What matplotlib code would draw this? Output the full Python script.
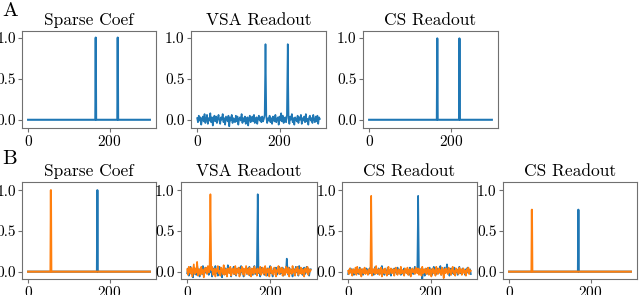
import numpy as np
import matplotlib
matplotlib.use("Agg")
import matplotlib.pyplot as plt

plt.rcParams['font.family'] = 'serif'
plt.rcParams['font.serif'] = ['cmr10']
plt.rcParams['mathtext.fontset'] = 'cm'
plt.rcParams['axes.formatter.use_mathtext'] = True
plt.rcParams['axes.edgecolor'] = '#707070'
plt.rcParams['xtick.color'] = '#707070'
plt.rcParams['ytick.color'] = '#707070'
plt.rcParams['xtick.labelcolor'] = 'black'
plt.rcParams['ytick.labelcolor'] = 'black'

N = 300
BLUE = '#1f77b4'
ORANGE = '#ff7f0e'

# row A: one signal, two active coefficients
a_spike_x = [166, 220]
a_coef = [1.0, 1.0]
a_vsa_peak = [0.92, 0.92]
a_cs_peak = [0.99, 0.99]

# row B: two signals (blue, orange), one active coefficient each
b_spike_x_blue = 170
b_spike_x_orange = 56
b_coef = 1.0
b_vsa_peak = [0.95, 0.95]    # blue, orange
b_cs_peak = [0.93, 0.93]
b_cs2_peak = [0.76, 0.76]

# readout noise, sampled every 2nd coefficient
a_vsa_noise = [
    0.02, -0.03, 0.05, -0.01, 0.03, -0.06, 0.01, 0.04, -0.02, 0.07,
    -0.04, 0.00, 0.06, -0.05, 0.02, -0.01, 0.08, -0.03, 0.03, -0.07,
    0.01, 0.05, -0.02, 0.04, -0.04, 0.02, 0.06, -0.01, -0.05, 0.03,
    0.00, 0.07, -0.03, 0.02, -0.06, 0.04, 0.01, -0.02, 0.05, -0.08,
    0.03, -0.01, 0.06, -0.04, 0.02, 0.00, -0.03, 0.05, -0.02, 0.04,
    -0.06, 0.01, 0.03, -0.01, 0.07, -0.04, 0.02, -0.02, 0.04, -0.05,
    0.01, 0.03, -0.07, 0.02, 0.05, -0.03, 0.00, 0.04, -0.02, 0.06,
    -0.04, 0.01, 0.03, -0.05, 0.02, 0.05, -0.01, 0.03, -0.03, 0.04,
    -0.02, 0.01, 0.06, -0.03, 0.03, -0.04, 0.02, -0.01, 0.05, -0.03,
    0.02, -0.05, 0.04, 0.00, -0.02, 0.06, -0.03, 0.01, 0.03, -0.06,
    0.04, -0.01, 0.08, -0.02, 0.05, -0.04, 0.01, 0.03, -0.03, 0.06,
    -0.01, 0.02, -0.05, 0.04, 0.00, 0.07, -0.03, 0.02, -0.06, 0.03,
    0.01, -0.02, 0.05, -0.04, 0.03, 0.00, 0.06, -0.05, 0.02, -0.01,
    0.04, -0.03, 0.07, -0.02, 0.01, -0.06, 0.03, 0.05, -0.01, 0.02,
    -0.04, 0.06, 0.00, -0.03, 0.04, -0.02, 0.05, -0.05, 0.03, 0.01,
]
b_vsa_noise_blue = [
    -0.02, 0.04, -0.05, 0.01, 0.06, -0.03, 0.02, -0.07, 0.05, 0.00,
    0.03, -0.04, 0.08, -0.01, 0.02, -0.06, 0.04, 0.01, -0.03, 0.07,
    -0.05, 0.02, 0.05, -0.02, 0.00, 0.06, -0.04, 0.03, -0.01, 0.05,
    -0.06, 0.02, 0.04, -0.03, 0.07, -0.02, 0.01, -0.05, 0.03, 0.06,
    -0.01, 0.04, -0.07, 0.02, 0.00, 0.05, -0.03, 0.03, -0.04, 0.08,
    0.01, -0.02, 0.04, -0.06, 0.03, 0.00, 0.06, -0.03, 0.02, -0.05,
    0.04, 0.01, -0.02, 0.05, -0.04, 0.07, -0.01, 0.02, -0.06, 0.03,
    0.00, 0.05, -0.03, 0.04, -0.02, 0.06, -0.05, 0.01, 0.03, -0.04,
    0.02, 0.07, -0.03, 0.01, 0.05, 0.09, -0.02, 0.04, -0.06, 0.02,
    0.05, -0.01, 0.03, -0.04, 0.06, 0.00, -0.05, 0.04, 0.02, -0.03,
    0.07, -0.02, 0.01, -0.06, 0.04, 0.03, -0.01, 0.05, -0.04, 0.02,
    0.00, 0.06, -0.03, 0.04, -0.02, 0.05, -0.05, 0.02, 0.03, -0.01,
    0.16, 0.02, -0.04, 0.05, -0.02, 0.03, 0.00, -0.06, 0.04, 0.01,
    -0.03, 0.06, -0.01, 0.02, -0.05, 0.07, 0.00, -0.02, 0.04, -0.04,
    0.03, 0.05, -0.03, 0.01, 0.06, -0.02, 0.04, -0.05, 0.02, 0.03,
]
b_vsa_noise_orange = [
    0.03, -0.04, 0.06, 0.00, -0.02, 0.05, -0.06, 0.02, 0.09, -0.03,
    0.04, -0.01, 0.12, -0.05, 0.03, 0.01, -0.04, 0.06, -0.02, 0.02,
    -0.07, 0.04, 0.00, 0.05, -0.03, 0.07, -0.01, 0.03, -0.05, 0.02,
    0.06, -0.04, 0.01, 0.04, -0.06, 0.03, 0.00, 0.07, -0.02, 0.01,
    -0.05, 0.05, 0.02, -0.03, 0.08, -0.04, 0.01, 0.03, -0.06, 0.04,
    0.00, -0.02, 0.06, -0.05, 0.02, 0.04, -0.03, 0.01, 0.07, -0.04,
    0.03, -0.01, 0.05, -0.06, 0.02, 0.00, 0.06, -0.03, 0.04, -0.05,
    0.01, 0.07, -0.02, 0.03, -0.04, 0.05, 0.00, -0.06, 0.04, 0.02,
    -0.03, 0.06, -0.01, 0.03, -0.05, 0.04, 0.01, -0.02, 0.06, -0.04,
    0.02, 0.05, -0.03, 0.00, 0.07, -0.05, 0.03, -0.01, 0.04, -0.06,
    0.02, 0.06, -0.02, 0.01, -0.04, 0.05, 0.03, -0.06, 0.02, 0.00,
    0.07, -0.03, 0.04, -0.01, 0.05, -0.05, 0.02, 0.03, -0.04, 0.06,
    0.00, -0.02, 0.05, -0.06, 0.03, 0.01, -0.03, 0.07, -0.01, 0.02,
    -0.05, 0.04, 0.00, 0.06, -0.04, 0.02, -0.02, 0.05, -0.03, 0.03,
    0.01, -0.06, 0.04, 0.02, -0.01, 0.06, -0.04, 0.03, 0.00, 0.02,
]
b_cs_noise_blue = [
    -0.03, 0.02, -0.01, 0.04, -0.02, 0.01, 0.03, -0.04, 0.02, 0.00,
    0.04, -0.02, 0.01, -0.03, 0.05, 0.00, -0.01, 0.03, -0.04, 0.02,
    0.01, -0.02, 0.04, -0.01, 0.03, -0.03, 0.00, 0.05, -0.02, 0.01,
    0.03, -0.04, 0.02, 0.06, -0.01, 0.02, -0.03, 0.04, 0.00, -0.02,
    0.03, 0.07, -0.01, 0.02, -0.04, 0.03, 0.01, -0.02, 0.05, -0.03,
    0.00, 0.02, -0.05, 0.03, 0.01, -0.02, 0.04, -0.01, 0.02, -0.03,
    0.05, 0.00, -0.02, 0.03, -0.04, 0.02, 0.01, -0.03, 0.04, -0.01,
    0.02, -0.02, 0.03, 0.00, -0.04, 0.05, 0.01, -0.02, 0.03, -0.03,
    0.02, 0.06, -0.01, 0.01, 0.03, 0.07, -0.03, 0.02, -0.02, 0.04,
    -0.10, 0.01, 0.03, -0.05, 0.02, 0.00, 0.04, -0.03, 0.01, 0.05,
    -0.02, 0.03, -0.04, 0.02, 0.06, -0.01, 0.01, -0.03, 0.04, 0.00,
    -0.02, 0.03, 0.07, -0.04, 0.02, 0.01, -0.03, 0.05, -0.01, 0.02,
    0.09, -0.02, 0.03, -0.05, 0.01, 0.04, -0.02, 0.02, -0.03, 0.05,
    0.00, -0.01, 0.03, -0.04, 0.02, 0.06, -0.02, 0.01, -0.03, 0.04,
    -0.01, 0.02, -0.04, 0.03, 0.00, 0.05, -0.02, 0.01, 0.03, -0.03,
]
b_cs_noise_orange = [
    0.01, -0.03, 0.04, -0.01, 0.02, -0.05, 0.03, 0.00, -0.02, 0.05,
    -0.04, 0.06, -0.01, 0.02, -0.03, 0.04, -0.06, 0.01, 0.03, -0.02,
    0.05, -0.03, 0.02, 0.00, -0.04, 0.03, 0.01, -0.02, 0.06, -0.05,
    0.02, -0.01, 0.04, -0.03, 0.07, -0.02, 0.00, 0.03, -0.04, 0.02,
    0.05, -0.06, 0.01, 0.03, -0.02, 0.04, -0.01, -0.05, 0.02, 0.06,
    -0.03, 0.01, 0.04, -0.02, 0.00, 0.03, -0.05, 0.02, 0.05, -0.01,
    -0.04, 0.03, 0.01, -0.03, 0.06, -0.02, 0.02, 0.00, -0.05, 0.04,
    0.01, -0.02, 0.05, -0.04, 0.02, 0.03, -0.06, 0.01, 0.04, -0.01,
    0.02, -0.03, 0.05, 0.00, -0.02, 0.04, -0.04, 0.03, 0.01, -0.05,
    0.06, -0.02, 0.02, -0.01, 0.04, -0.03, 0.00, 0.05, -0.04, 0.02,
    0.03, -0.06, 0.01, 0.04, -0.02, 0.02, -0.05, 0.06, 0.00, -0.03,
    0.04, -0.01, 0.02, -0.04, 0.05, 0.01, -0.08, 0.03, -0.02, 0.04,
    0.00, -0.03, 0.05, -0.01, 0.02, -0.04, 0.03, 0.06, -0.02, 0.01,
    -0.05, 0.04, 0.00, 0.02, -0.03, 0.05, -0.01, 0.03, -0.04, 0.02,
    0.04, -0.02, 0.01, -0.05, 0.03, 0.00, 0.05, -0.03, 0.02, 0.01,
]


def sparse_line(xs, vals):
    y = np.zeros(N)
    y[xs] = vals
    return y


def noisy_line(noise, xs, vals):
    y = np.array(noise, dtype=float)
    for x, v in zip(xs, vals):
        y[x // 2] = v
    return y


def style(ax, title, ylim):
    ax.set_title(title, fontsize=12.5, pad=4)
    ax.set_ylim(*ylim)
    ax.set_xticks([0, 200])
    ax.set_yticks([0.0, 0.5, 1.0])
    ax.set_yticklabels(['0.0', '0.5', '1.0'])
    ax.tick_params(labelsize=11, length=3, pad=1.5)


W, H = 640, 295
fig = plt.figure(figsize=(6.4, 2.95), dpi=100)


def px_axes(left, right, top, bottom):
    return fig.add_axes([left / W, 1 - bottom / H, (right - left) / W, (bottom - top) / H])


xfull = np.arange(N)
xhalf = np.arange(len(a_vsa_noise)) * 2

ylim_a = (-0.1, 1.08)
ylim_b = (-0.09, 1.1)

# row A
ax = px_axes(22, 156, 31, 128)
ax.plot(xfull, sparse_line(a_spike_x, a_coef), color=BLUE)
style(ax, 'Sparse Coef', ylim_a)

ax = px_axes(191, 326, 31, 128)
ax.plot(xhalf, noisy_line(a_vsa_noise, a_spike_x, a_vsa_peak), color=BLUE, lw=1.2)
style(ax, 'VSA Readout', ylim_a)

ax = px_axes(363, 498, 31, 128)
ax.plot(xfull, sparse_line(a_spike_x, a_cs_peak), color=BLUE)
style(ax, 'CS Readout', ylim_a)

# row B
ax = px_axes(22, 156, 182, 279)
ax.plot(xfull, sparse_line([b_spike_x_blue], [b_coef]), color=BLUE)
ax.plot(xfull, sparse_line([b_spike_x_orange], [b_coef]), color=ORANGE)
style(ax, 'Sparse Coef', ylim_b)

ax = px_axes(181, 317, 182, 279)
ax.plot(xhalf, noisy_line(b_vsa_noise_blue, [b_spike_x_blue], [b_vsa_peak[0]]), color=BLUE, lw=1.2)
ax.plot(xhalf, noisy_line(b_vsa_noise_orange, [b_spike_x_orange], [b_vsa_peak[1]]), color=ORANGE, lw=1.2)
style(ax, 'VSA Readout', ylim_b)

ax = px_axes(342, 477, 182, 279)
ax.plot(xhalf, noisy_line(b_cs_noise_blue, [b_spike_x_blue], [b_cs_peak[0]]), color=BLUE, lw=1.2)
ax.plot(xhalf, noisy_line(b_cs_noise_orange, [b_spike_x_orange], [b_cs_peak[1]]), color=ORANGE, lw=1.2)
style(ax, 'CS Readout', ylim_b)

ax = px_axes(503, 637, 182, 279)
ax.plot(xfull, sparse_line([b_spike_x_blue], [b_cs2_peak[0]]), color=BLUE)
ax.plot(xfull, sparse_line([b_spike_x_orange], [b_cs2_peak[1]]), color=ORANGE)
style(ax, 'CS Readout', ylim_b)

fig.text(2 / W, 1 - 2 / H, 'A', fontsize=15, va='top', ha='left')
fig.text(2 / W, 1 - 150 / H, 'B', fontsize=15, va='top', ha='left')

fig.savefig('out.png', dpi=100)
